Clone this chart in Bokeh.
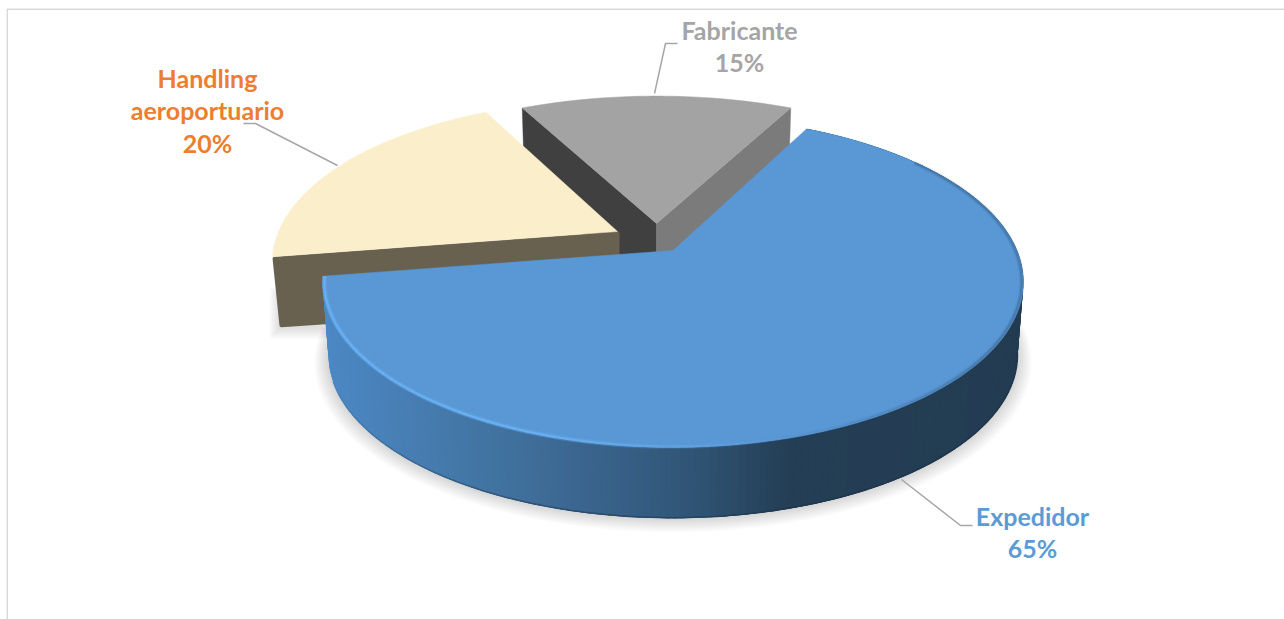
import math
from bokeh.plotting import figure
from bokeh.models import Range1d
from bokeh.core.properties import value
from bokeh.embed import file_html
from bokeh.resources import INLINE

# ---- data
categories = ["Expedidor", "Handling aeroportuario", "Fabricante"]
values = [65, 20, 15]
label_lines = [["Expedidor", "65%"], ["Handling", "aeroportuario", "20%"], ["Fabricante", "15%"]]
top_colors = ["#5997D5", "#FAEFCA", "#A3A3A3"]
text_colors = ["#5B9BD5", "#ED7D31", "#A5A5A5"]
first_slice_angle = 27

# ---- layout (reference pixels)
apex = [(672.5, 250), (617, 231), (656, 223)]
scale_x = [1.0, 0.985, 1.005]
scale_y = [1.0, 0.98, 0.95]
RX, RY, K = 344, 159.6, 0.19
DEPTH, SHRINK = 74, 0.983
W, H = 1284, 619

p = figure(width=W, height=H, output_backend="svg", toolbar_location=None,
           x_range=Range1d(0, W), y_range=Range1d(H, 0),
           min_border=0, outline_line_color=None)
p.axis.visible = False
p.grid.visible = False
p.background_fill_color = "white"
p.border_fill_color = "white"


def rim(a, i, s=1.0, d=0.0):
    c = apex[i]
    t = math.radians(a)
    u, v = math.sin(t), math.cos(t)
    w = 1 + K * v
    return c[0] + s * scale_x[i] * RX * u / w, c[1] + d - s * scale_y[i] * RY * v / w


def arc(a0, a1, i, s=1.0, d=0.0, step=1.0):
    n = max(2, int(abs(a1 - a0) / step) + 1)
    pts = [rim(a0 + (a1 - a0) * j / (n - 1), i, s, d) for j in range(n)]
    return [q[0] for q in pts], [q[1] for q in pts]


def mix(c1, c2, f):
    a = [int(c1[i:i + 2], 16) for i in (1, 3, 5)]
    b = [int(c2[i:i + 2], 16) for i in (1, 3, 5)]
    return "#%02x%02x%02x" % tuple(round(a[i] + (b[i] - a[i]) * f) for i in range(3))


def side_color(x):
    stops = [(325, "#4C88C4"), (500, "#41729F"), (620, "#375F86"), (700, "#2F5373"),
             (790, "#243E55"), (1030, "#233C52")]
    for (x0, c0), (x1, c1) in zip(stops, stops[1:]):
        if x <= x1:
            return mix(c0, c1, max(0, (x - x0) / (x1 - x0)))
    return stops[-1][1]


# slice angles, clockwise from north, from the values
total = sum(values)
bounds = []
start = first_slice_angle
for val in values:
    end = start + val * 360 / total
    bounds.append((start, end))
    start = end

# ---- Fabricante: walls and top
a0, a1 = bounds[2]
c = apex[2]
lx, ly = rim(a0, 2)
rx_, ry_ = rim(a1, 2)
p.patch([c[0], lx, rim(a0, 2, SHRINK, DEPTH)[0], c[0]],
        [c[1], ly, rim(a0, 2, SHRINK, DEPTH)[1], c[1] + DEPTH],
        fill_color="#404040", line_color="#404040", line_width=0.5)
p.patch([c[0], rx_, rim(a1, 2, SHRINK, DEPTH)[0], c[0]],
        [c[1], ry_, rim(a1, 2, SHRINK, DEPTH)[1], c[1] + DEPTH],
        fill_color="#7B7B7B", line_color="#7B7B7B", line_width=0.5)
xs, ys = arc(a0, a1, 2)
p.patch([c[0]] + xs, [c[1]] + ys, fill_color=top_colors[2], line_color=top_colors[2], line_width=0.5)

# ---- soft shadows (below Handling and Expedidor)
for i in range(8):
    f = (i + 1) / 8
    xs, ys = arc(60, 285, 0, SHRINK + 0.04 * f, DEPTH + 6 * f)
    p.patch(xs, ys, fill_color="#000000", fill_alpha=0.02, line_color=None)
    h0 = bounds[1][0]
    bx, by = rim(h0, 1, 0.98, 71)
    p.patch([bx - 10 * f, bx - 10 * f, bx + 60], [by - 40, by + 12 * f, by + 12 * f],
            fill_color="#000000", fill_alpha=0.015, line_color=None)

# ---- Handling: wall and top
a0, a1 = bounds[1]
c = apex[1]
lx, ly = rim(a0, 1)
bx, by = rim(a0, 1, 0.98, 71)
p.patch([c[0], lx + 2, bx + 2, c[0]], [c[1] + 2, ly + 2, by - 2, c[1] + 71],
        fill_color="#696150", line_color="#696150", line_width=4, line_join="round")
xs, ys = arc(a0, a1, 1)
p.patch([c[0]] + xs, [c[1]] + ys, fill_color=top_colors[1], line_color=top_colors[1], line_width=0.5)

# ---- Expedidor: outer side strips (each overlaps the next, so no seams), then top
a0, a1 = bounds[0]
c = apex[0]
strip_x, strip_y, strip_c = [], [], []
a = a1
while a > a0:
    b = max(a - 2.5, a0)
    m = a - 0.5
    t0, t1 = rim(a, 0), rim(b, 0)
    b0, b1 = rim(a, 0, SHRINK, DEPTH), rim(b, 0, SHRINK, DEPTH)
    strip_x.append([t0[0], t1[0], b1[0], b0[0]])
    strip_y.append([t0[1], t1[1], b1[1], b0[1]])
    strip_c.append(side_color(rim(m, 0)[0]))
    a -= 1.0
p.patches(strip_x, strip_y, fill_color=strip_c, line_color=None)

# thin darker edge at the foot of the side, fading out to the left
seg_x, seg_y, seg_c = [], [], []
for a in range(100, 250):
    q0, q1 = rim(a, 0, SHRINK, DEPTH), rim(a + 1, 0, SHRINK, DEPTH)
    seg_x.append([q0[0], q1[0]])
    seg_y.append([q0[1] - 0.5, q1[1] - 0.5])
    fade = min(1.0, (250 - a) / 50)
    seg_c.append(mix(side_color(q0[0]), "#1A2F44", 0.45 * fade))
p.multi_line(seg_x, seg_y, line_color=seg_c, line_width=1.5)

xs, ys = arc(a0, a1, 0)
p.patch([c[0]] + xs, [c[1]] + ys, fill_color=top_colors[0], line_color=top_colors[0], line_width=0.5)

# bevel: light rim on the left/front (soft halo plus core), soft dark blur on the right
seg_x, seg_y, seg_c, seg_a = [], [], [], []
for a in range(int(a0) + 25, int(a1)):
    q0, q1 = rim(a, 0, 0.995), rim(a + 1, 0, 0.995)
    seg_x.append([q0[0], q1[0]])
    seg_y.append([q0[1], q1[1]])
    if a >= 165:
        seg_c.append("#68B0F2")
        seg_a.append(min(1.0, (a - 165) / 35))
    else:
        seg_c.append("#23405A")
        seg_a.append(min(0.25, (165 - a) / 150))
p.multi_line(seg_x, seg_y, line_color=seg_c, line_alpha=[0.35 * q for q in seg_a], line_width=5)
p.multi_line(seg_x, seg_y, line_color=seg_c, line_alpha=seg_a, line_width=2.2)

# ---- leader lines
leader_x = [[901, 960, 972], [243, 255, 337], [654, 665, 677]]
leader_y = [[479, 525, 525], [123, 123, 165], [93, 43, 43]]
p.multi_line(leader_x, leader_y, line_color="#A6A6A6", line_width=1.5)

# ---- labels
label_cx = [1032, 207, 739]
label_top = [515, 77, 29]
line_gap = 32.5
for lines, cx, y0, col in zip(label_lines, label_cx, label_top, text_colors):
    p.text([cx] * len(lines), [y0 + i * line_gap for i in range(len(lines))], text=lines,
           text_color=col, text_font=value("Lato"), text_font_style="bold",
           text_font_size="25px", text_align="center", text_baseline="middle")

# ---- chart frame
p.line([6.8, 6.8, 1284], [619, 8.8, 8.8], line_color="#D9D9D9", line_width=1.5)

open("out.html", "w").write(file_html(p, INLINE))
